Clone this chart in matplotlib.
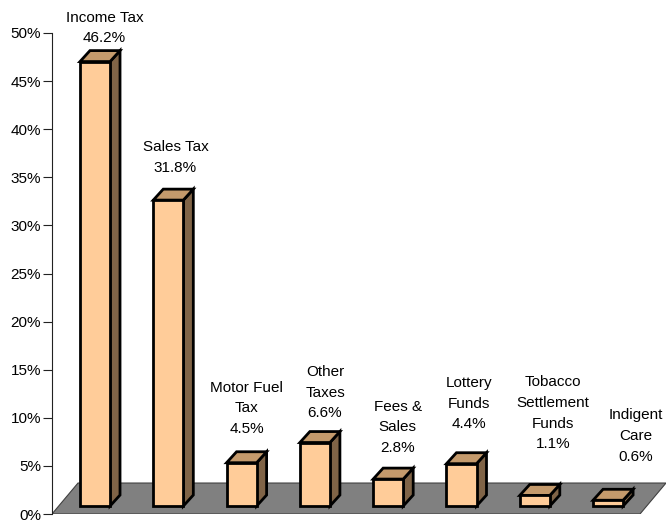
import matplotlib
matplotlib.use("Agg")
import matplotlib.pyplot as plt
from matplotlib.patches import Polygon
from matplotlib.ticker import FuncFormatter

plt.rcParams["font.family"] = ["Liberation Sans", "DejaVu Sans"]

# data
categories = ["Income Tax", "Sales Tax", "Motor Fuel\nTax", "Other\nTaxes",
              "Fees &\nSales", "Lottery\nFunds", "Tobacco\nSettlement\nFunds",
              "Indigent\nCare"]
shares = [46.2, 31.8, 4.5, 6.6, 2.8, 4.4, 1.1, 0.6]
y_ticks = [0, 5, 10, 15, 20, 25, 30, 35, 40, 45, 50]

# layout (data units: x = category slot, y = percent)
BAR_W = 0.41
DEPTH_X, DEPTH_Y = 0.136, 1.14        # bar oblique depth
FLOOR_DX, FLOOR_DY = 0.355, 3.22      # floor oblique depth
BAR_LIFT = 0.83                       # bar front sits this far above floor front
FLOOR_X0, FLOOR_X1 = -0.587, 7.435
# label placement: x shift from bar, baseline of the last line
LABEL_DX = [0.06, 0.03, 0.0, 0.07, 0.06, 0.04, 0.18, 0.31]
LABEL_Y = [49.6, 36.1, 9.0, 10.6, 7.0, 9.45, 7.4, 6.1]
LABEL_DROP = 0.55

FRONT = "#FFCC99"
TOP = "#C49A6C"
SIDE = "#806447"
FLOOR = "#808080"

fig = plt.figure(figsize=(6.66, 5.21), dpi=100)
ax = fig.add_axes([52 / 666, 7 / 521, 614 / 666, 481 / 521])
ax.set_xlim(-0.587, 7.79)
ax.set_ylim(0, 50)

floor = Polygon([(FLOOR_X0, 0), (FLOOR_X1, 0),
                 (FLOOR_X1 + FLOOR_DX, FLOOR_DY), (FLOOR_X0 + FLOOR_DX, FLOOR_DY)],
                closed=True, facecolor=FLOOR, edgecolor="#404040", linewidth=0.8,
                zorder=1)
ax.add_patch(floor)

lw = 2.0
for i, (name, val) in enumerate(zip(categories, shares)):
    x0 = i - BAR_W / 2
    x1 = i + BAR_W / 2
    y0 = BAR_LIFT
    y1 = BAR_LIFT + val
    front = [(x0, y0), (x1, y0), (x1, y1), (x0, y1)]
    top = [(x0, y1), (x1, y1), (x1 + DEPTH_X, y1 + DEPTH_Y), (x0 + DEPTH_X, y1 + DEPTH_Y)]
    side = [(x1, y0), (x1 + DEPTH_X, y0 + DEPTH_Y), (x1 + DEPTH_X, y1 + DEPTH_Y), (x1, y1)]
    for pts, col in ((side, SIDE), (top, TOP), (front, FRONT)):
        ax.add_patch(Polygon(pts, closed=True, facecolor=col, edgecolor="black",
                             linewidth=lw, joinstyle="miter", zorder=3))
    label = f"{name}\n{val:.1f}%"
    ax.text(i + DEPTH_X / 2 + LABEL_DX[i], LABEL_Y[i] - LABEL_DROP, label,
            ha="center", va="baseline", fontsize=11, linespacing=1.6, zorder=4)

for s in ("top", "right", "bottom"):
    ax.spines[s].set_visible(False)
ax.spines["left"].set_color("#222222")
ax.spines["left"].set_linewidth(0.8)
ax.set_xticks([])
ax.set_yticks(y_ticks)
ax.yaxis.set_major_formatter(FuncFormatter(lambda v, p: f"{v:.0f}%"))
ax.tick_params(axis="y", length=6.5, width=0.8, color="#222222", pad=1.5,
               labelsize=11)
ax.patch.set_visible(False)

fig.savefig("out.png", dpi=100)
